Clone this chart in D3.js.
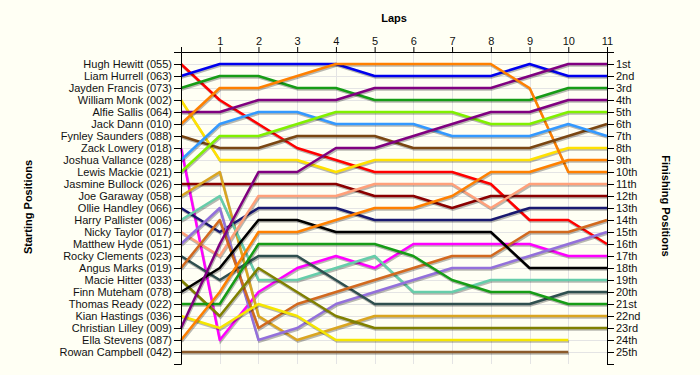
<!DOCTYPE html>
<html>
<head>
<meta charset="utf-8">
<title>Lap chart</title>
<style>
  body { margin: 0; background: #fffff4; }
  svg { display: block; font-family: "Liberation Sans", Arial, sans-serif; }
  .axis text { font-size: 11px; fill: #111; }
  .axis path, .axis line { stroke: #000; }
  .grid line { stroke: #e4e4e4; shape-rendering: crispEdges; }
  .title { font-size: 11px; font-weight: bold; fill: #000; }
</style>
</head>
<body>
<svg id="chart"></svg>
<script src="https://d3js.org/d3.v7.min.js"></script>
<script>
// laps along the top, 0 = grid
const laps = [0, 1, 2, 3, 4, 5, 6, 7, 8, 9, 10, 11];

// drivers in starting order
const drivers = [
  "Hugh Hewitt (055)", "Liam Hurrell (063)", "Jayden Francis (073)", "William Monk (002)",
  "Alfie Sallis (064)", "Jack Dann (010)", "Fynley Saunders (088)", "Zack Lowery (018)",
  "Joshua Vallance (028)", "Lewis Mackie (021)", "Jasmine Bullock (026)", "Joe Garaway (058)",
  "Ollie Handley (066)", "Harry Pallister (006)", "Nicky Taylor (017)", "Matthew Hyde (051)",
  "Rocky Clements (023)", "Angus Marks (019)", "Macie Hitter (033)", "Finn Muteham (078)",
  "Thomas Ready (022)", "Kian Hastings (036)", "Christian Lilley (009)", "Ella Stevens (087)",
  "Rowan Campbell (042)"
];

const colours = [
  "#ff0000", "#0000ee", "#169c16", "#ffe100", "#800080", "#ff8000", "#7a4612", "#ff00ff",
  "#3399ff", "#80f000", "#8b0000", "#daa520", "#191970", "#66cdaa", "#ffa07a", "#9370db",
  "#2f4f4f", "#d2691e", "#808000", "#000000", "#169c16", "#f5e600", "#800080", "#ff8000",
  "#8b5a2b"
];

// position at the end of each lap (lap 0 = start), one row per driver
const positions = [
  [1, 4, 6, 8, 9, 10, 10, 10, 11, 14, 14, 16],
  [2, 1, 1, 1, 1, 2, 2, 2, 2, 1, 2, 2],
  [3, 2, 2, 3, 3, 4, 4, 4, 4, 4, 3, 3],
  [4, 9, 9, 9, 10, 9, 9, 9, 9, 9, 8, 8],
  [5, 5, 4, 4, 4, 3, 3, 3, 3, 2, 1, 1],
  [6, 3, 3, 2, 1, 1, 1, 1, 1, 3, 10, 10],
  [7, 8, 8, 7, 7, 7, 8, 8, 8, 8, 7, 6],
  [8, 24, 20, 18, 17, 18, 16, 16, 16, 16, 17, 17],
  [9, 6, 5, 5, 6, 6, 6, 7, 7, 7, 6, 7],
  [10, 7, 7, 6, 5, 5, 5, 5, 6, 6, 5, 5],
  [11, 11, 11, 11, 11, 12, 12, 13, 12, 12, 12, 12],
  [12, 10, 22, 24, 23, 22, 22, 22, 22, 22, 22, 22],
  [13, 15, 13, 13, 13, 14, 14, 14, 14, 13, 13, 13],
  [14, 12, 19, 19, 18, 17, 20, 20, 19, 19, 19, 19],
  [15, 17, 12, 12, 12, 11, 11, 11, 13, 11, 11, 11],
  [16, 13, 24, 23, 21, 20, 19, 18, 18, 17, 16, 15],
  [17, 19, 17, 17, 19, 21, 21, 21, 21, 21, 20, 20],
  [18, 14, 23, 21, 20, 19, 18, 17, 17, 15, 15, 14],
  [19, 22, 18, 20, 22, 23, 23, 23, 23, 23, 23, 23],
  [20, 18, 14, 14, 15, 15, 15, 15, 15, 18, 18, 18],
  [21, 21, 16, 16, 16, 16, 17, 19, 20, 20, 21, 21],
  [22, 23, 21, 22, 24, 24, 24, 24, 24, 24, 24],
  [23, 16, 10, 10, 8, 8, 7, 6, 5, 5, 4, 4],
  [24, 20, 15, 15, 14, 13, 13, 12, 10, 10, 9, 9],
  [25, 25, 25, 25, 25, 25, 25, 25, 25, 25, 25]
];

const finishLabels = [
  "1st", "2nd", "3rd", "4th", "5th", "6th", "7th", "8th", "9th", "10th",
  "11th", "12th", "13th", "14th", "15th", "16th", "17th", "18th", "19th", "20th",
  "21st", "22nd", "23rd", "24th", "25th"
];

const width = 700, height = 375;
const rows = d3.range(0, drivers.length + 2);

const svg = d3.select("#chart").attr("width", width).attr("height", height);
svg.append("rect").attr("width", width).attr("height", height).attr("fill", "#fffff4");

const x = d3.scaleLinear().domain([0, 11]).range([181, 607]);
const y = d3.scaleLinear().domain([0, drivers.length + 1]).range([52, 364]);

// grid
const grid = svg.append("g").attr("class", "grid");
grid.selectAll(".v").data(laps.slice(1, -1)).join("line")
  .attr("class", "v")
  .attr("x1", d => Math.round(x(d)) + 0.5).attr("x2", d => Math.round(x(d)) + 0.5)
  .attr("y1", y(0)).attr("y2", y(drivers.length + 1));
grid.selectAll(".h").data(d3.range(1, drivers.length + 1)).join("line")
  .attr("class", "h")
  .attr("x1", x(0)).attr("x2", x(11))
  .attr("y1", d => Math.round(y(d)) + 0.5).attr("y2", d => Math.round(y(d)) + 0.5);

// lines
const line = d3.line().x((d, i) => x(laps[i])).y(d => y(d));
const tracks = svg.append("g").selectAll("g").data(positions).join("g");
tracks.append("path")
  .attr("d", line)
  .attr("fill", "none")
  .attr("stroke", "#000")
  .attr("stroke-opacity", 0.28)
  .attr("stroke-width", 2.5)
  .attr("transform", "translate(0.8,1.6)");
tracks.append("path")
  .attr("d", line)
  .attr("fill", "none")
  .attr("stroke", (d, i) => colours[i])
  .attr("stroke-width", 2.5)
  .attr("stroke-linejoin", "round");

// axes
svg.append("g").attr("class", "axis")
  .attr("transform", `translate(0,${y(0)})`)
  .call(d3.axisTop(x).tickValues(laps).tickSize(5).tickSizeOuter(0).tickPadding(2)
    .tickFormat(d => d === 0 ? "" : d));

svg.append("g").attr("class", "axis")
  .attr("transform", `translate(${x(0)},0)`)
  .call(d3.axisLeft(y).tickValues(rows).tickSize(7).tickSizeOuter(7).tickPadding(2)
    .tickFormat(d => drivers[d - 1] || ""));

svg.append("g").attr("class", "axis")
  .attr("transform", `translate(${x(11)},0)`)
  .call(d3.axisRight(y).tickValues(rows).tickSize(7).tickSizeOuter(7).tickPadding(2)
    .tickFormat(d => finishLabels[d - 1] || ""));

// titles
svg.append("text").attr("class", "title")
  .attr("x", (x(0) + x(11)) / 2).attr("y", 22)
  .attr("text-anchor", "middle").text("Laps");
svg.append("text").attr("class", "title")
  .attr("transform", "translate(32,207) rotate(-90)")
  .attr("text-anchor", "middle").text("Starting Positions");
svg.append("text").attr("class", "title")
  .attr("transform", "translate(662,206) rotate(90)")
  .attr("text-anchor", "middle").text("Finishing Positions");
</script>
</body>
</html>
